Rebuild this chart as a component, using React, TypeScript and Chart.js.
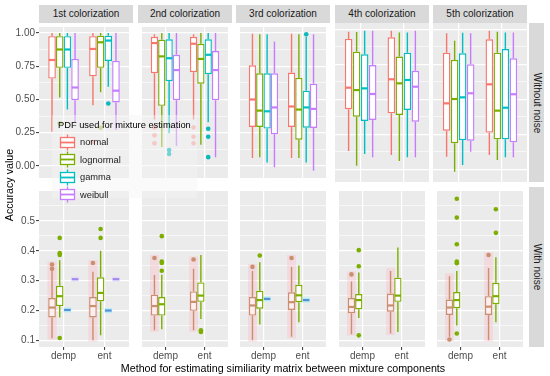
import React, { useEffect, useRef } from 'react';
import { Chart, registerables } from 'chart.js';
Chart.register(...registerables);

// ---------- data ----------
const PANELS = ['1st colorization', '2nd colorization', '3rd colorization', '4th colorization', '5th colorization'];
const ROWS = ['Without noise', 'With noise'];
const METHODS = ['demp', 'ent'];
const PDFS = ['normal', 'lognormal', 'gamma', 'weibull'];

const TOP_MAJOR = [0, 0.25, 0.5, 0.75, 1.0];
const TOP_LABELS = ['0.00', '0.25', '0.50', '0.75', '1.00'];
const TOP_MINOR = [0.125, 0.375, 0.625, 0.875];
const BOT_MAJOR = [0.1, 0.2, 0.3, 0.4, 0.5];
const BOT_LABELS = ['0.1', '0.2', '0.3', '0.4', '0.5'];
const BOT_MINOR = [0.15, 0.25, 0.35, 0.45, 0.55];

// [panel][method] = [lower whisker, q1, median, q3, upper whisker]
const TOP_NORMAL = [
  [[0.257, 0.657, 0.797, 0.976, 1.0], [0.457, 0.674, 0.88, 0.976, 1.0]],
  [[0.35, 0.697, 0.924, 0.971, 0.99], [0.35, 0.705, 0.919, 0.971, 0.99]],
  [[0.06, 0.293, 0.5, 0.757, 0.995], [0.06, 0.293, 0.447, 0.702, 0.995]],
  [[0.13, 0.429, 0.583, 0.931, 0.983], [0.102, 0.4, 0.643, 0.943, 0.99]],
  [[0.09, 0.276, 0.471, 0.833, 0.971], [0.102, 0.262, 0.607, 0.929, 0.99]],
];
const TOP_LOGNORMAL = [
  [[0.514, 0.738, 0.876, 0.976, 1.0], [0.554, 0.738, 0.93, 0.98, 1.0]],
  [[0.143, 0.452, 0.824, 0.95, 1.0], [0.16, 0.619, 0.805, 0.919, 1.0]],
  [[0.066, 0.293, 0.416, 0.697, 0.99], [0.06, 0.197, 0.424, 0.662, 0.99]],
  [[0.026, 0.376, 0.566, 0.84, 0.98], [0.06, 0.388, 0.614, 0.805, 0.978]],
  [[-0.017, 0.186, 0.502, 0.781, 0.919], [0.066, 0.214, 0.419, 0.833, 0.983]],
];
const TOP_GAMMA = [
  [[0.424, 0.738, 0.876, 0.976, 1.0], [0.595, 0.79, 0.943, 0.98, 1.0]],
  [[0.245, 0.638, 0.81, 0.952, 1.0], [0.328, 0.69, 0.836, 0.952, 1.0]],
  [[0.026, 0.281, 0.411, 0.697, 0.99], [0.026, 0.288, 0.44, 0.566, 0.971]],
  [[0.109, 0.345, 0.578, 0.821, 0.99], [0.086, 0.424, 0.638, 0.833, 0.978]],
  [[0.031, 0.209, 0.514, 0.829, 0.976], [0.086, 0.214, 0.44, 0.859, 0.978]],
];
const TOP_WEIBULL = [
  [[0.33, 0.495, 0.59, 0.805, 1.0], [0.27, 0.478, 0.566, 0.79, 1.0]],
  [[0.15, 0.495, 0.721, 0.836, 1.0], [0.066, 0.495, 0.721, 0.864, 1.0]],
  [[-0.01, 0.238, 0.44, 0.697, 0.936], [-0.036, 0.286, 0.429, 0.619, 0.99]],
  [[0.086, 0.352, 0.538, 0.745, 0.99], [0.086, 0.34, 0.59, 0.704, 0.99]],
  [[0.126, 0.204, 0.543, 0.75, 0.971], [0.086, 0.193, 0.536, 0.793, 0.978]],
];
const TOP_NORMAL_OUT = [[[], [0.18]], [[0.29, 0.23, 0.17], [0.29, 0.22, 0.17]], [[], []], [[], []], [[], []]];
const TOP_LOGNORMAL_OUT = [[[0.32], [0.287]], [[], []], [[], []], [[], []], [[], []]];
const TOP_GAMMA_OUT = [[[], [0.47]], [[0.119, 0.09], [0.28, 0.22, 0.066]], [[], [0.99]], [[], []], [[], []]];
const TOP_WEIBULL_OUT = [[[], []], [[], []], [[], []], [[], []], [[], []]];

const BOT_NORMAL = [
  [[0.107, 0.177, 0.21, 0.242, 0.335], [0.101, 0.177, 0.215, 0.245, 0.33]],
  [[0.134, 0.183, 0.215, 0.253, 0.319], [0.134, 0.199, 0.229, 0.264, 0.34]],
  [[0.101, 0.183, 0.217, 0.245, 0.332], [0.112, 0.202, 0.228, 0.261, 0.346]],
  [[0.121, 0.191, 0.212, 0.242, 0.297], [0.123, 0.196, 0.217, 0.257, 0.332]],
  [[0.112, 0.185, 0.21, 0.237, 0.315], [0.101, 0.185, 0.213, 0.248, 0.342]],
];
const BOT_LOGNORMAL = [
  [[0.177, 0.215, 0.248, 0.283, 0.368], [0.117, 0.231, 0.259, 0.311, 0.4]],
  [[0.137, 0.183, 0.221, 0.245, 0.32], [0.172, 0.229, 0.25, 0.294, 0.386]],
  [[0.153, 0.206, 0.235, 0.266, 0.362], [0.161, 0.228, 0.251, 0.286, 0.351]],
  [[0.175, 0.204, 0.235, 0.255, 0.327], [0.128, 0.229, 0.25, 0.31, 0.411]],
  [[0.15, 0.208, 0.235, 0.262, 0.332], [0.161, 0.221, 0.248, 0.293, 0.378]],
];
const BOT_NORMAL_OUT = [[[0.354, 0.34], [0.359]], [[0.376], [0.371]], [[0.346], [0.376]], [[0.321], []], [[0.103], [0.386]]];
const BOT_LOGNORMAL_OUT = [
  [[0.443, 0.392, 0.386, 0.108], [0.473, 0.443]],
  [[0.449, 0.364, 0.359, 0.333], [0.134, 0.128]],
  [[0.384], []],
  [[0.402, 0.348, 0.117], []],
  [[0.574, 0.511, 0.422, 0.364, 0.358, 0.123], [0.539, 0.46]],
];
const BOT_GAMMA = [[0.202, 0.2], [null, null], [0.239, 0.235], [null, null], [null, null]];
const BOT_WEIBULL = [[0.305, 0.305], [null, null], [null, null], [null, null], [null, null]];

// ---------- style ----------
const FONT = 'Liberation Sans, Arial, Helvetica, sans-serif';
const TOP_COLORS = ['#F8766D', '#7CAE00', '#00BFC4', '#C77CFF'];
const TOP_OUT_COLORS = ['rgba(248,118,109,0.6)', 'rgba(124,174,0,0.6)', 'rgba(0,180,186,0.95)', 'rgba(199,124,255,0.6)'];
const BOT_NORMAL_COLOR = '#C98F6E';
const BOT_LOG_COLOR = '#7CAE00';
const DODGE = [-0.28125, -0.09375, 0.09375, 0.28125];
const COL_LEFT = [39, 138, 236, 335, 433];
const PANEL_W = 94;
const ROW_TOP = [23, 187];
const ROW_H = [159, 160];
const ROW_MIN = [-0.0907, 0.078];
const ROW_MAX = [1.045, 0.6];
const X_AXIS_H = 22;
const Y_AXIS_W = 39;
const LINE_W = 1.4;

const panelBg = {
  id: 'panelBg',
  beforeDraw(chart: any) {
    const { ctx, chartArea: a } = chart;
    ctx.save();
    ctx.fillStyle = '#EBEBEB';
    ctx.fillRect(a.left, a.top, a.right - a.left, a.bottom - a.top);
    ctx.restore();
  },
};

const boxParts = {
  id: 'boxParts',
  beforeDatasetDraw(chart: any, args: any) {
    const ds = chart.data.datasets[args.index];
    if (!ds.boxStats) return;
    const { ctx } = chart;
    const xs = chart.scales.x, ys = chart.scales.y;
    ctx.save();
    ctx.strokeStyle = ds.whiskerColor;
    ctx.lineWidth = LINE_W;
    ds.data.forEach((p: any, i: number) => {
      const s = ds.boxStats[i];
      const px = xs.getPixelForValue(p.x);
      ctx.beginPath();
      ctx.moveTo(px, ys.getPixelForValue(s[0]));
      ctx.lineTo(px, ys.getPixelForValue(s[1]));
      ctx.moveTo(px, ys.getPixelForValue(s[3]));
      ctx.lineTo(px, ys.getPixelForValue(s[4]));
      ctx.stroke();
    });
    ctx.restore();
  },
  afterDatasetDraw(chart: any, args: any) {
    const ds = chart.data.datasets[args.index];
    if (!ds.medianValues) return;
    const meta = chart.getDatasetMeta(args.index);
    const { ctx } = chart;
    const ys = chart.scales.y;
    ctx.save();
    ctx.strokeStyle = ds.medianColor;
    ctx.lineWidth = 2.2;
    ds.medianValues.forEach((m: number, i: number) => {
      const el = meta.data[i];
      if (!el) return;
      const py = ys.getPixelForValue(m);
      ctx.beginPath();
      ctx.moveTo(el.x - el.width / 2 + 0.5, py);
      ctx.lineTo(el.x + el.width / 2 - 0.5, py);
      ctx.stroke();
    });
    ctx.restore();
  },
};

function addBox(datasets: any[], stats: any[], k: number, color: string, fill: string) {
  const pts: any[] = [];
  const st: any[] = [];
  stats.forEach((s: any, j: number) => {
    if (s) {
      pts.push({ x: j + 1 + DODGE[k], y: [s[1], s[3]] });
      st.push(s);
    }
  });
  datasets.push({
    type: 'bar', data: pts, boxStats: st, medianValues: st.map((s) => s[2]), medianColor: color,
    whiskerColor: color, borderColor: color, backgroundColor: fill, borderWidth: LINE_W,
    borderSkipped: false, grouped: false, barPercentage: 1, categoryPercentage: 1,
    maxBarThickness: 7.6, inflateAmount: 0, order: 2,
  });
}

function addBand(datasets: any[], stats: any[], outs: any[], k: number, color: string) {
  const pts: any[] = [];
  stats.forEach((s: any, j: number) => {
    if (s) {
      const all = [s[0], s[4], ...outs[j]];
      pts.push({ x: j + 1 + DODGE[k], y: [Math.min(...all) - 0.005, Math.max(...all) + 0.01] });
    }
  });
  datasets.push({
    type: 'bar', data: pts, backgroundColor: color, borderWidth: 0, grouped: false,
    barPercentage: 1.2, categoryPercentage: 1, maxBarThickness: 9.5, inflateAmount: 0, order: 3,
  });
}

function addDash(datasets: any[], vals: any[], k: number, halo: string, color: string) {
  const pts: any[] = [];
  const meds: number[] = [];
  vals.forEach((v: any, j: number) => {
    if (v != null) {
      pts.push({ x: j + 1 + DODGE[k], y: [v - 0.008, v + 0.008] });
      meds.push(v);
    }
  });
  if (!pts.length) return;
  datasets.push({
    type: 'bar', data: pts, medianValues: meds, medianColor: color, backgroundColor: halo,
    borderWidth: 0, grouped: false, barPercentage: 1, categoryPercentage: 1,
    maxBarThickness: 7.6, inflateAmount: 0, order: 2,
  });
}

function addOut(datasets: any[], outs: any[], k: number, color: string) {
  const pts: any[] = [];
  outs.forEach((list: number[], j: number) => list.forEach((v) => pts.push({ x: j + 1 + DODGE[k], y: v })));
  if (!pts.length) return;
  datasets.push({ type: 'scatter', data: pts, backgroundColor: color, borderWidth: 0, pointRadius: 2.3, order: 1 });
}

function buildConfig(row: number, col: number): any {
  const datasets: any[] = [];
  if (row === 0) {
    const sets = [TOP_NORMAL, TOP_LOGNORMAL, TOP_GAMMA, TOP_WEIBULL];
    const outs = [TOP_NORMAL_OUT, TOP_LOGNORMAL_OUT, TOP_GAMMA_OUT, TOP_WEIBULL_OUT];
    sets.forEach((s, k) => addBox(datasets, s[col], k, TOP_COLORS[k], '#FFFFFF'));
    outs.forEach((o, k) => addOut(datasets, o[col], k, TOP_OUT_COLORS[k]));
  } else {
    addBand(datasets, BOT_NORMAL[col], BOT_NORMAL_OUT[col], 0, 'rgba(255,175,190,0.3)');
    addBox(datasets, BOT_NORMAL[col], 0, BOT_NORMAL_COLOR, '#FDEEF0');
    addBox(datasets, BOT_LOGNORMAL[col], 1, BOT_LOG_COLOR, '#FFFFFF');
    addDash(datasets, BOT_GAMMA[col], 2, 'rgba(150,240,250,0.7)', '#5A8FD6');
    addDash(datasets, BOT_WEIBULL[col], 3, 'rgba(225,210,250,0.6)', '#A48AF0');
    addOut(datasets, BOT_NORMAL_OUT[col], 0, BOT_NORMAL_COLOR);
    addOut(datasets, BOT_LOGNORMAL_OUT[col], 1, BOT_LOG_COLOR);
  }
  const isLeft = col === 0;
  const isBottom = row === 1;
  const major = row === 0 ? TOP_MAJOR : BOT_MAJOR;
  const labels = row === 0 ? TOP_LABELS : BOT_LABELS;
  const minor = row === 0 ? TOP_MINOR : BOT_MINOR;
  const isMajor = (v: number) => major.some((m) => Math.abs(m - v) < 1e-6);
  return {
    type: 'bar',
    data: { datasets },
    plugins: [panelBg, boxParts],
    options: {
      animation: false,
      responsive: false,
      events: [],
      layout: { padding: 0 },
      plugins: { legend: { display: false }, tooltip: { enabled: false } },
      scales: {
        x: {
          type: 'linear', min: 0.4, max: 2.6, offset: false,
          afterBuildTicks: (s: any) => { s.ticks = METHODS.map((_, i) => ({ value: i + 1 })); },
          ticks: {
            display: isBottom, autoSkip: false, maxRotation: 0, padding: 0,
            callback: (v: number) => METHODS[Math.round(v) - 1] ?? '',
            font: { family: FONT, size: 10 }, color: '#4D4D4D',
          },
          grid: { offset: false, color: '#FFFFFF', lineWidth: 1.2, drawTicks: isBottom, tickLength: 3, tickColor: '#333333', tickWidth: 1 },
          border: { display: false },
          afterFit: (s: any) => { s.height = isBottom ? X_AXIS_H : 0; s.paddingLeft = 0; s.paddingRight = 0; },
        },
        y: {
          type: 'linear', min: ROW_MIN[row], max: ROW_MAX[row],
          afterBuildTicks: (s: any) => { s.ticks = [...major, ...minor].sort((a, b) => a - b).map((v) => ({ value: v })); },
          ticks: {
            display: isLeft, autoSkip: false, padding: 1,
            callback: (v: number) => { const i = major.findIndex((m) => Math.abs(m - v) < 1e-6); return i >= 0 ? labels[i] : ''; },
            font: { family: FONT, size: 10 }, color: '#4D4D4D',
          },
          grid: {
            color: '#FFFFFF',
            lineWidth: (c: any) => (c.tick && isMajor(c.tick.value) ? 1.2 : 0.6),
            drawTicks: isLeft, tickLength: 3,
            tickColor: (c: any) => (c.tick && isMajor(c.tick.value) ? '#333333' : 'rgba(0,0,0,0)'),
            tickWidth: 1,
          },
          border: { display: false },
          afterFit: (s: any) => { s.width = isLeft ? Y_AXIS_W : 0; s.paddingTop = 0; s.paddingBottom = 0; },
        },
      },
    },
  };
}

function Panel({ row, col }: { row: number; col: number }) {
  const ref = useRef<HTMLCanvasElement>(null);
  const isLeft = col === 0;
  const left = isLeft ? 0 : COL_LEFT[col];
  const width = isLeft ? COL_LEFT[0] + PANEL_W : PANEL_W;
  const top = ROW_TOP[row];
  const height = ROW_H[row] + (row === 1 ? X_AXIS_H : 0);
  useEffect(() => {
    const chart = new Chart(ref.current as HTMLCanvasElement, buildConfig(row, col));
    return () => chart.destroy();
  }, [row, col]);
  return <canvas ref={ref} width={width} height={height} style={{ position: 'absolute', left, top, width, height }} />;
}

function LegendKey({ color, cy }: { color: string; cy: number }) {
  return (
    <svg width={17} height={17} style={{ position: 'absolute', left: 58.5, top: cy - 8.5 }}>
      <line x1={8.5} y1={0.5} x2={8.5} y2={16.5} stroke={color} strokeWidth={1.3} />
      <rect x={1.5} y={3.5} width={14} height={10} fill="#FFFFFF" stroke={color} strokeWidth={1.3} />
      <line x1={1.5} y1={8.5} x2={15.5} y2={8.5} stroke={color} strokeWidth={1.8} />
    </svg>
  );
}

export default function App() {
  const text: React.CSSProperties = { position: 'absolute', fontFamily: FONT, whiteSpace: 'nowrap' };
  const legendRows = [142, 159.5, 177, 194.5];
  return (
    <div style={{ position: 'absolute', left: 0, top: 0, width: 550, height: 376, background: '#FFFFFF', overflow: 'hidden' }}>
      {ROWS.map((_, r) => PANELS.map((__, c) => <Panel key={`${r}-${c}`} row={r} col={c} />))}
      {PANELS.map((p, c) => (
        <div key={p} style={{ ...text, left: COL_LEFT[c], top: 5, width: PANEL_W, height: 18, lineHeight: '18px', background: '#D9D9D9', color: '#1A1A1A', fontSize: 10, textAlign: 'center' }}>{p}</div>
      ))}
      {ROWS.map((rname, r) => (
        <div key={rname} style={{ position: 'absolute', left: 529, top: ROW_TOP[r], width: 15, height: ROW_H[r], background: '#D9D9D9' }}>
          <div style={{ ...text, left: '50%', top: '50%', transform: 'translate(-50%, -50%) rotate(90deg)', fontSize: 10, color: '#1A1A1A' }}>{rname}</div>
        </div>
      ))}
      <div style={{ ...text, left: 9, top: 185, transform: 'translate(-50%, -50%) rotate(-90deg)', fontSize: 10.7, color: '#000000' }}>Accuracy value</div>
      <div style={{ ...text, left: 283, top: 368, transform: 'translate(-50%, -50%)', fontSize: 10.7, color: '#000000' }}>Method for estimating similiarity matrix between mixture components</div>
      <div style={{ position: 'absolute', left: 52, top: 115, width: 145, height: 83, background: 'rgba(245,245,245,0.45)' }} />
      <div style={{ ...text, left: 58, top: 125, transform: 'translateY(-50%)', fontSize: 9.3, color: '#000000' }}>PDF used for mixture estimation</div>
      {PDFS.map((name, k) => (
        <React.Fragment key={name}>
          <LegendKey color={TOP_COLORS[k]} cy={legendRows[k]} />
          <div style={{ ...text, left: 80, top: legendRows[k], transform: 'translateY(-50%)', fontSize: 9.3, color: '#1A1A1A' }}>{name}</div>
        </React.Fragment>
      ))}
    </div>
  );
}
